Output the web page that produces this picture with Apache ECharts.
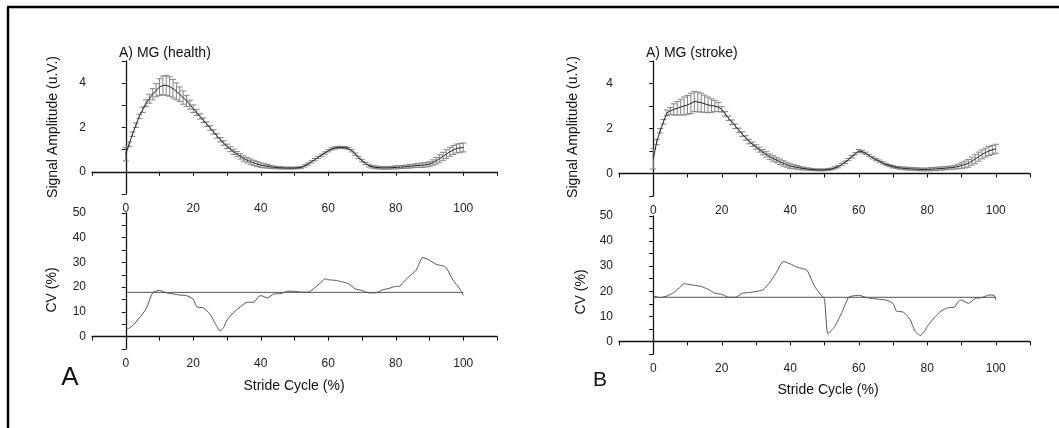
<!DOCTYPE html>
<html>
<head>
<meta charset="utf-8">
<script src="https://cdn.jsdelivr.net/npm/echarts@6/dist/echarts.min.js"></script>
<style>
    html, body { margin: 0; padding: 0; background: #fff; }
    #chart { width: 1059px; height: 428px; }
</style>
</head>
<body>
<div id="chart"></div>
<script>
// stride cycle samples (%), one per percent
var strideX = [0,1,2,3,4,5,6,7,8,9,10,11,12,13,14,15,16,17,18,19,20,21,22,23,24,25,26,27,28,29,30,31,32,33,34,35,36,37,38,39,40,41,42,43,44,45,46,47,48,49,50,51,52,53,54,55,56,57,58,59,60,61,62,63,64,65,66,67,68,69,70,71,72,73,74,75,76,77,78,79,80,81,82,83,84,85,86,87,88,89,90,91,92,93,94,95,96,97,98,99,100];

// MG (health) signal amplitude, mean and sd (u.V.)
var healthMean = [0.8,1.25,1.7,2.1,2.5,2.8,3.1,3.3,3.5,3.68,3.82,3.9,3.9,3.85,3.75,3.63,3.5,3.35,3.2,3.03,2.85,2.68,2.5,2.33,2.15,1.98,1.8,1.62,1.45,1.3,1.15,1.02,0.9,0.8,0.7,0.6,0.52,0.46,0.4,0.35,0.3,0.27,0.25,0.22,0.2,0.19,0.18,0.17,0.17,0.17,0.17,0.18,0.2,0.27,0.35,0.45,0.55,0.65,0.75,0.85,0.95,1.03,1.08,1.1,1.1,1.09,1.05,0.95,0.8,0.65,0.5,0.38,0.28,0.23,0.2,0.19,0.18,0.18,0.18,0.19,0.2,0.21,0.22,0.23,0.25,0.26,0.28,0.29,0.3,0.32,0.35,0.42,0.5,0.6,0.7,0.8,0.9,0.98,1.05,1.08,1.1];
var healthErr = [0.3,0.1,0.1,0.1,0.1,0.12,0.15,0.2,0.25,0.3,0.38,0.42,0.45,0.44,0.42,0.38,0.33,0.3,0.25,0.2,0.17,0.14,0.12,0.1,0.1,0.1,0.1,0.1,0.1,0.1,0.1,0.11,0.12,0.12,0.12,0.12,0.12,0.12,0.12,0.11,0.1,0.09,0.08,0.07,0.06,0.05,0.05,0.04,0.04,0.04,0.04,0.04,0.04,0.05,0.05,0.05,0.05,0.05,0.05,0.05,0.05,0.05,0.05,0.05,0.05,0.05,0.05,0.05,0.05,0.05,0.05,0.05,0.06,0.06,0.06,0.06,0.06,0.06,0.06,0.06,0.07,0.07,0.07,0.07,0.08,0.08,0.08,0.09,0.1,0.1,0.1,0.12,0.15,0.17,0.18,0.2,0.2,0.2,0.2,0.2,0.2];

// MG (stroke) signal amplitude, mean and sd (u.V.)
var strokeMean = [0.65,1.4,1.9,2.3,2.7,2.78,2.85,2.9,2.95,3.0,3.05,3.12,3.2,3.18,3.15,3.1,3.05,3.02,3.0,2.95,2.85,2.65,2.45,2.28,2.1,1.92,1.75,1.58,1.42,1.3,1.18,1.06,0.95,0.85,0.75,0.67,0.6,0.52,0.45,0.39,0.33,0.3,0.27,0.24,0.22,0.2,0.18,0.17,0.16,0.16,0.16,0.18,0.2,0.25,0.3,0.4,0.5,0.62,0.75,0.88,1.0,0.97,0.9,0.8,0.7,0.62,0.55,0.47,0.4,0.35,0.3,0.27,0.25,0.23,0.22,0.21,0.2,0.19,0.18,0.18,0.18,0.19,0.2,0.21,0.22,0.23,0.25,0.26,0.28,0.31,0.35,0.4,0.45,0.55,0.65,0.75,0.85,0.93,1.0,1.05,1.1];
var strokeErr = [0.45,0.12,0.1,0.1,0.12,0.15,0.25,0.3,0.35,0.4,0.42,0.45,0.45,0.44,0.42,0.38,0.35,0.3,0.25,0.2,0.12,0.1,0.1,0.1,0.1,0.1,0.1,0.1,0.1,0.1,0.1,0.11,0.12,0.12,0.12,0.12,0.12,0.12,0.12,0.11,0.1,0.09,0.08,0.07,0.06,0.05,0.05,0.04,0.04,0.04,0.04,0.04,0.04,0.05,0.05,0.05,0.05,0.05,0.05,0.05,0.06,0.06,0.05,0.05,0.05,0.05,0.05,0.05,0.05,0.05,0.05,0.05,0.06,0.06,0.06,0.06,0.06,0.06,0.06,0.06,0.06,0.07,0.07,0.07,0.07,0.07,0.07,0.07,0.08,0.1,0.12,0.15,0.17,0.18,0.2,0.2,0.2,0.2,0.2,0.2,0.2];

// coefficient of variation (%)
var cvHealthX = [0,2,4,6,8,10,12,14,16,18,20,21,23,25,26.5,28,29,30,32,34,36,38,39,40,42,44,46,48,50,52,54,56,58,59,60,62,64,66,68,70,72,74,76,78,80,81,82,84,86,88,90,92,94,95,97,99,100];
var cvHealthY = [2.6,4.4,7.5,11.2,17.7,18.7,17.7,17.3,16.8,16.6,15.1,12.1,11.6,9.1,5.3,2.3,3.7,6.7,9.8,12.1,13.9,13.9,15.7,16.6,15.7,17.3,17.4,18.4,18.3,18.0,18.0,19.8,22.1,23.4,23.0,22.8,22.2,21.4,19.3,18.7,17.7,17.7,18.9,19.5,20.3,20.3,21.7,24.4,26.8,32.0,30.9,29.2,28.6,27.8,22.8,19.3,16.6];
var cvStrokeX = [0,2,4,6,8,9,10,12,14,16,18,20,22,24,26,28,30,32,34,36,38,40,42,44,45,47,49,50,51,53,55,57,58,60,62,64,66,68,70,71,73,75,76.5,78,79,80,82,84,86,88,89,90,92,94,96,98,99.5,100];
var cvStrokeY = [18.1,17.5,18.1,19.5,21.8,23.1,22.8,22.4,21.9,20.8,19.2,18.8,17.6,17.6,19.2,19.5,19.9,20.6,23.5,27.6,31.9,30.9,29.6,28.9,28.2,22.2,18.5,16.8,3.1,6.0,11.4,17.5,18.1,18.4,17.6,17.1,16.8,16.5,15.2,12.1,11.7,8.7,4.0,2.4,3.6,6.0,9.4,12.1,13.4,13.7,15.9,16.5,15.2,17.1,17.5,18.5,18.4,16.5];
var cvHealthRef = 17.9;
var cvStrokeRef = 17.6;

var font = 'Liberation Sans, Arial, sans-serif';

function pairs(xs, ys) {
    var data = [];
    for (var i = 0; i < xs.length; i++) {
        data.push([xs[i], ys[i]]);
    }
    return data;
}

function bars(mean, err) {
    var data = [];
    for (var i = 0; i < strideX.length; i++) {
        data.push([strideX[i], mean[i] - err[i], mean[i] + err[i]]);
    }
    return data;
}

function errorBar(params, api) {
    var top = api.coord([api.value(0), api.value(2)]);
    var bot = api.coord([api.value(0), api.value(1)]);
    var w = 3;
    var st = { stroke: '#858585', lineWidth: 1 };
    return {
        type: 'group',
        children: [
            { type: 'line', shape: { x1: top[0], y1: top[1], x2: bot[0], y2: bot[1] }, style: st },
            { type: 'line', shape: { x1: top[0] - w, y1: top[1], x2: top[0] + w, y2: top[1] }, style: st },
            { type: 'line', shape: { x1: bot[0] - w, y1: bot[1], x2: bot[0] + w, y2: bot[1] }, style: st }
        ]
    };
}

var axisLine = { lineStyle: { color: '#111', width: 1.3 } };

function xAxis(idx) {
    return {
        type: 'value', gridIndex: idx, min: -10, max: 110, interval: 10,
        axisLine: axisLine,
        axisTick: { length: 4, lineStyle: { color: '#111' } },
        splitLine: { show: false },
        axisLabel: {
            color: '#222', fontSize: 12, fontFamily: font, margin: 9,
            formatter: function (v) { return (v >= 0 && v <= 100 && v % 20 === 0) ? v : ''; }
        }
    };
}

function yAxis(idx, min, max, interval, every) {
    return {
        type: 'value', gridIndex: idx, min: min, max: max, interval: interval,
        axisLine: axisLine,
        axisTick: { length: 4, lineStyle: { color: '#111' } },
        splitLine: { show: false },
        axisLabel: {
            color: '#222', fontSize: 12, fontFamily: font, margin: 6,
            formatter: function (v) { return (v >= 0 && v % every === 0) ? v : ''; }
        }
    };
}

function txt(x, y, text, size, rot, align) {
    return {
        type: 'text', x: x, y: y, rotation: rot || 0,
        style: {
            text: text, fontSize: size, fontFamily: font, fill: '#111',
            textAlign: align || 'center', textVerticalAlign: 'middle'
        }
    };
}

var option = {
    animation: false,
    backgroundColor: '#fff',
    grid: [
        { left: 92, top: 61, width: 405, height: 133 },
        { left: 92, top: 213, width: 405, height: 136 },
        { left: 619, top: 61, width: 411, height: 135 },
        { left: 619, top: 216, width: 411, height: 138 }
    ],
    xAxis: [xAxis(0), xAxis(1), xAxis(2), xAxis(3)],
    yAxis: [
        yAxis(0, -1, 5, 1, 2),
        yAxis(1, -5, 50, 5, 10),
        yAxis(2, -1, 5, 1, 2),
        yAxis(3, -5, 50, 5, 10)
    ],
    series: [
        { type: 'custom', xAxisIndex: 0, yAxisIndex: 0, renderItem: errorBar, encode: { x: 0, y: [1, 2] }, data: bars(healthMean, healthErr), z: 2 },
        { type: 'line', xAxisIndex: 0, yAxisIndex: 0, data: pairs(strideX, healthMean), symbol: 'none', lineStyle: { color: '#222', width: 1 }, z: 3 },
        { type: 'line', xAxisIndex: 1, yAxisIndex: 1, data: pairs(cvHealthX, cvHealthY), symbol: 'none', smooth: 0.2, lineStyle: { color: '#555', width: 1 } },
        { type: 'line', xAxisIndex: 1, yAxisIndex: 1, data: [[0, cvHealthRef], [100, cvHealthRef]], symbol: 'none', lineStyle: { color: '#555', width: 1 } },
        { type: 'custom', xAxisIndex: 2, yAxisIndex: 2, renderItem: errorBar, encode: { x: 0, y: [1, 2] }, data: bars(strokeMean, strokeErr), z: 2 },
        { type: 'line', xAxisIndex: 2, yAxisIndex: 2, data: pairs(strideX, strokeMean), symbol: 'none', lineStyle: { color: '#222', width: 1 }, z: 3 },
        { type: 'line', xAxisIndex: 3, yAxisIndex: 3, data: pairs(cvStrokeX, cvStrokeY), symbol: 'none', smooth: 0.2, lineStyle: { color: '#555', width: 1 } },
        { type: 'line', xAxisIndex: 3, yAxisIndex: 3, data: [[0, cvStrokeRef], [100, cvStrokeRef]], symbol: 'none', lineStyle: { color: '#555', width: 1 } }
    ],
    graphic: [
        { type: 'line', shape: { x1: 8, y1: 7, x2: 8, y2: 428 }, style: { stroke: '#000', lineWidth: 2.5 } },
        { type: 'line', shape: { x1: 7, y1: 7, x2: 1059, y2: 7 }, style: { stroke: '#000', lineWidth: 2.5 } },
        txt(119, 53, 'A) MG (health)', 14, 0, 'left'),
        txt(646, 53, 'A) MG (stroke)', 14, 0, 'left'),
        txt(53, 127, 'Signal Amplitude (u.V.)', 14, Math.PI / 2),
        txt(573, 127, 'Signal Amplitude (u.V.)', 14, Math.PI / 2),
        txt(52, 290, 'CV (%)', 14, Math.PI / 2),
        txt(581, 292, 'CV (%)', 14, Math.PI / 2),
        txt(294, 386, 'Stride Cycle (%)', 14),
        txt(828, 390, 'Stride Cycle (%)', 14),
        txt(70, 378, 'A', 26),
        txt(600, 380, 'B', 21)
    ]
};

echarts.init(document.getElementById('chart')).setOption(option);
</script>
</body>
</html>
